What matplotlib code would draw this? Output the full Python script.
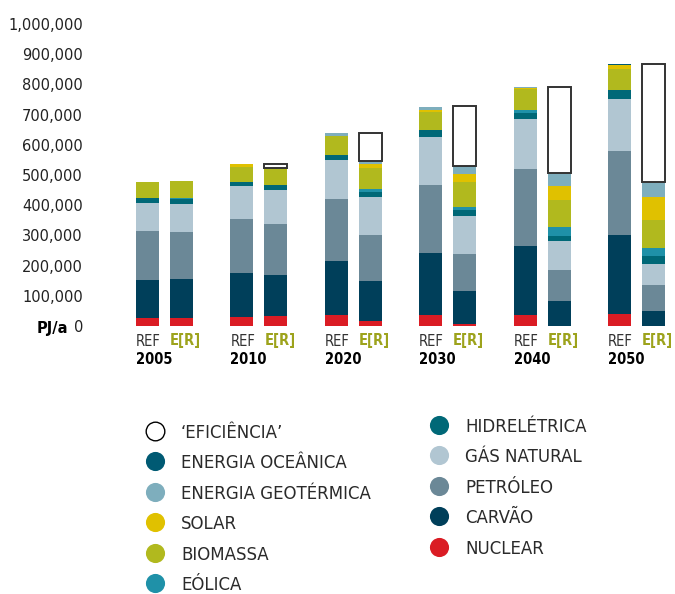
import matplotlib
matplotlib.use("Agg")
import matplotlib.pyplot as plt
import numpy as np

# data (PJ/a), order: 2005 REF, 2005 E[R], 2010 REF, 2010 E[R], ...
years = ["2005", "2010", "2020", "2030", "2040", "2050"]
scen = ["REF", "E[R]"]

nuclear = [26500, 26500, 29800, 33100, 36400, 16600, 36400, 6600, 36400, 0, 39700, 0]
coal = [125800, 129000, 145700, 135800, 178800, 132400, 205300, 109300, 228500, 82800, 261600, 49700]
oil = [162300, 155700, 178800, 168900, 205300, 152300, 225200, 122500, 255000, 102600, 278200, 86100]
gas = [92700, 92700, 109300, 112500, 129200, 125900, 158900, 125800, 165600, 96100, 172200, 69500]
hydro = [16500, 16500, 13200, 16500, 16500, 16500, 23200, 19900, 19800, 16500, 29800, 26500]
wind = [0, 3300, 0, 0, 0, 10000, 0, 9900, 10000, 29800, 0, 26500]
biomass = [53000, 56000, 49700, 56400, 63000, 69500, 59600, 82800, 69500, 89400, 69500, 92700]
solar = [0, 0, 10000, 0, 0, 13300, 6700, 26500, 3300, 46400, 13300, 76200]
geo = [0, 0, 0, 0, 9900, 9900, 9900, 23200, 3300, 43000, 0, 49600]
ocean = [0, 0, 0, 0, 0, 0, 0, 3300, 0, 0, 3300, 0]
efficiency = [0, 0, 0, 13300, 0, 92700, 0, 198700, 0, 284800, 0, 390800]

series = [
    ("NUCLEAR", nuclear, "#da1c24"),
    ("CARVÃO", coal, "#003f5a"),
    ("PETRÓLEO", oil, "#6b8897"),
    ("GÁS NATURAL", gas, "#b1c6d2"),
    ("HIDRELÉTRICA", hydro, "#006877"),
    ("EÓLICA", wind, "#1f91a8"),
    ("BIOMASSA", biomass, "#b1b91e"),
    ("SOLAR", solar, "#e0c100"),
    ("ENERGIA GEOTÉRMICA", geo, "#7eaebd"),
    ("ENERGIA OCEÂNICA", ocean, "#005a73"),
]

W, H = 675, 594
fig = plt.figure(figsize=(6.75, 5.94), dpi=100)

# px helpers
unit = 94.4
c0 = 164.5
axl, axr = 90, 675
y0, ytop = 326, 24
ax = fig.add_axes([axl / W, (H - y0) / H, (axr - axl) / W, (y0 - ytop) / H])
ax.set_xlim((axl - c0) / unit, (axr - c0) / unit)
ax.set_ylim(0, 1000000)

off = 17 / unit
bw = 23 / unit
xs = []
for i in range(len(years)):
    xs += [i - off, i + off]
xs = np.array(xs)

bottom = np.zeros(len(xs))
for name, vals, col in series:
    v = np.array(vals, dtype=float)
    ax.bar(xs, v, bw, bottom=bottom, color=col, linewidth=0)
    bottom += v
eff = np.array(efficiency, dtype=float)
mask = eff > 0
ax.bar(xs[mask], eff[mask], bw, bottom=bottom[mask], facecolor="white",
       edgecolor="#333333", linewidth=1.4)

for s in ax.spines.values():
    s.set_visible(False)
ax.set_xticks([])
ticks = np.arange(0, 1000001, 100000)
ax.set_yticks(ticks)
ax.set_yticklabels(["0"] + ["{:,}".format(t) for t in ticks[1:]])
ax.tick_params(axis="y", length=0, pad=5, labelsize=10.5, labelcolor="#222222")

# overlay in pixel coords for labels and legend
ov = fig.add_axes([0, 0, 1, 1])
ov.set_xlim(0, W)
ov.set_ylim(H, 0)
ov.axis("off")

ov.text(68, 329, "PJ/a", ha="right", va="center", fontsize=10.5,
        fontweight="bold", color="black")

for i, yr in enumerate(years):
    xl = c0 + unit * i - 17 - 11.5
    ov.text(xl, 341, scen[0], ha="left", va="center", fontsize=10.5,
            color="#333333", fontstretch="condensed")
    ov.text(xl + 34, 341, scen[1], ha="left", va="center", fontsize=10.5,
            fontweight="bold", color="#9da31c", fontstretch="condensed")
    ov.text(xl, 360, yr, ha="left", va="center", fontsize=10.5,
            fontweight="bold", color="black", fontstretch="condensed")

leg1 = [("‘EFICIÊNCIA’", None), ("ENERGIA OCEÂNICA", "#005a73"),
        ("ENERGIA GEOTÉRMICA", "#7eaebd"), ("SOLAR", "#e0c100"),
        ("BIOMASSA", "#b1b91e"), ("EÓLICA", "#1f91a8")]
leg2 = [("HIDRELÉTRICA", "#006877"), ("GÁS NATURAL", "#b1c6d2"),
        ("PETRÓLEO", "#6b8897"), ("CARVÃO", "#003f5a"), ("NUCLEAR", "#da1c24")]

for j, (lab, col) in enumerate(leg1):
    yy = 431 + 30.4 * j
    if col is None:
        ov.scatter([155], [yy], s=180, facecolor="white", edgecolor="black",
                   linewidth=1.0)
    else:
        ov.scatter([155], [yy], s=190, color=col, linewidth=0)
    ov.text(181, yy + 2, lab, ha="left", va="center", fontsize=12,
            color="#2a2a2a")
for j, (lab, col) in enumerate(leg2):
    yy = 425 + 30.4 * j
    ov.scatter([439], [yy], s=190, color=col, linewidth=0)
    ov.text(465, yy + 2, lab, ha="left", va="center", fontsize=12,
            color="#2a2a2a")

fig.savefig("out.png", dpi=100)
